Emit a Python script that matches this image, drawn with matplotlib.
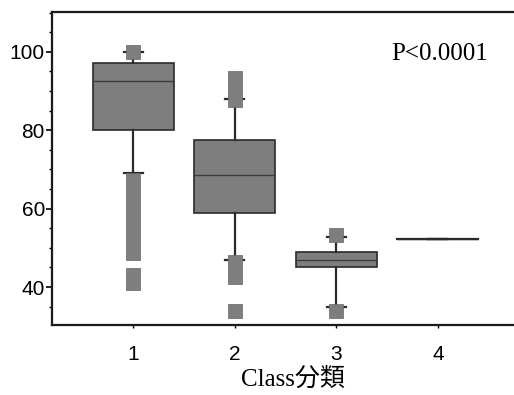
import numpy as np
import matplotlib.pyplot as plt
from matplotlib.ticker import MultipleLocator

# Box statistics per class
classes = [1, 2, 3, 4]
q1 = [80.0, 58.9, 45.2, 52.3]
med = [92.6, 68.6, 46.9, 52.3]
q3 = [97.2, 77.6, 49.0, 52.3]
whislo = [69.1, 46.9, 34.9, 52.3]
whishi = [100.0, 88.0, 52.8, 52.3]

# Dense outlier clusters (low, high) drawn as narrow filled strips
outlier_bands = {
    1: [(98.2, 101.8), (46.9, 69.1), (39.3, 44.9)],
    2: [(86.0, 95.0), (40.8, 48.2), (32.1, 35.7)],
    3: [(51.5, 55.1), (32.1, 35.7)],
    4: [],
}

p_text = "P<0.0001"
x_label = "Class分類"

fill = "#7e7e7e"
dark = "#2a2a2a"

fig = plt.figure(figsize=(5.14, 3.95), dpi=100)
ax = fig.add_axes([0.101, 0.177, 0.899, 0.793])

stats = []
for i, c in enumerate(classes):
    stats.append({
        "label": str(c), "q1": q1[i], "med": med[i], "q3": q3[i],
        "whislo": whislo[i], "whishi": whishi[i], "fliers": [],
    })

ax.bxp(stats, positions=classes, widths=0.8, patch_artist=True,
       showfliers=False,
       boxprops=dict(facecolor=fill, edgecolor=dark, linewidth=1.2),
       medianprops=dict(color="#3c3c3c", linewidth=1.0),
       whiskerprops=dict(color=dark, linewidth=1.6),
       capprops=dict(color=dark, linewidth=1.6),
       capwidths=0.19, zorder=2)

# outlier strips sit over the caps, leaving only their ends visible
for c in classes:
    for lo, hi in outlier_bands[c]:
        ax.bar(c, hi - lo, bottom=lo, width=0.14, color=fill,
               edgecolor="#666666", linewidth=0.5, zorder=3)

# class 4 collapses to a single level
ax.plot([3.6, 4.4], [med[3], med[3]], color=dark, linewidth=1.6, zorder=4)

ax.set_xlim(0.2, 4.75)
ax.set_ylim(30.3, 110.2)
ax.set_xticks(classes)
ax.set_xticklabels([str(c) for c in classes])
ax.set_yticks([40, 60, 80, 100])
ax.yaxis.set_minor_locator(MultipleLocator(5))

for s in ["left", "bottom", "top"]:
    ax.spines[s].set_linewidth(1.6)
    ax.spines[s].set_color("#1a1a1a")
ax.spines["right"].set_visible(False)

ax.tick_params(axis="y", which="major", length=4, width=1.2, pad=1,
               labelsize=15, labelfontfamily="Liberation Sans")
ax.tick_params(axis="y", which="minor", length=2, width=1.0)
ax.tick_params(axis="x", which="major", length=2, width=1.0, pad=12,
               labelsize=15, labelfontfamily="Liberation Sans")

ax.text(4.02, 99.5, p_text, ha="center", va="center", fontsize=18,
        family=["Liberation Serif", "DejaVu Serif"])

ax.set_xlabel(x_label, fontsize=18, labelpad=3,
              family=["Liberation Serif", "Noto Sans CJK JP"])
ax.xaxis.set_label_coords(0.522, -0.135)

fig.savefig("out.png", dpi=100)
